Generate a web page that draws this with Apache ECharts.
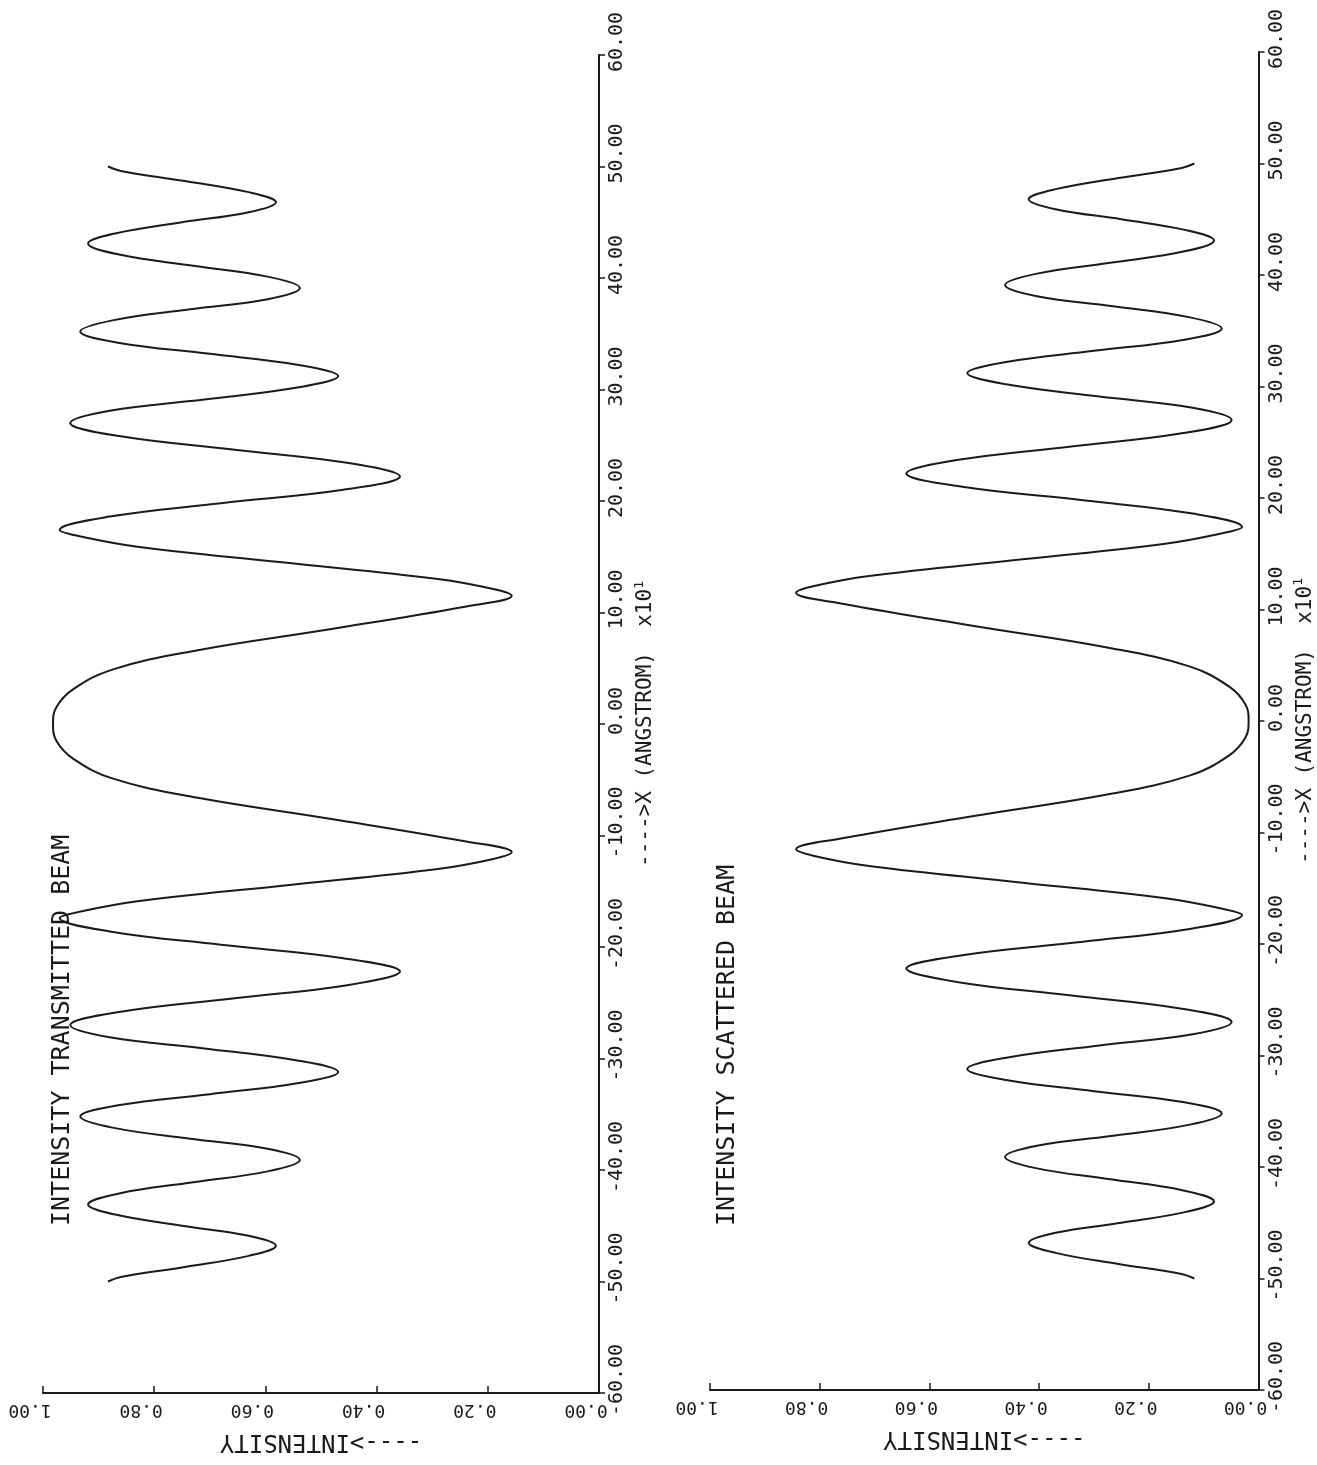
<!DOCTYPE html>
<html>
<head>
<meta charset="utf-8">
<script src="https://cdn.jsdelivr.net/npm/echarts@6/dist/echarts.min.js"></script>
<style>
html,body{margin:0;padding:0;background:#fff;}
#chart{width:1317px;height:1465px;}
</style>
</head>
<body>
<div id="chart"></div>
<script>
// ---- data (X in units of 10 Angstrom) ----
const angstrom = [
  -50.0, -49.6, -48.7, -47.7, -46.8, -45.9, -45.0, -44.0, -43.1, -42.1,
  -41.1, -40.1, -39.1, -38.1, -37.2, -36.2, -35.2, -34.2, -33.2, -32.2,
  -31.2, -30.2, -29.1, -28.1, -27.0, -25.8, -24.6, -23.4, -22.2, -21.0,
  -19.8, -18.6, -17.4, -16.9, -15.9, -14.5, -13.0, -12.1, -11.5, -10.5,
  -8.5, -6.6, -4.9, -3.1, -1.5,
  0,
  1.5, 3.1, 4.9, 6.6, 8.5,
  10.5, 11.5, 12.1, 13.0, 14.5, 15.9, 16.9, 17.4, 18.6, 19.8,
  21.0, 22.2, 23.4, 24.6, 25.8, 27.0, 28.1, 29.1, 30.2, 31.2,
  32.2, 33.2, 34.2, 35.2, 36.2, 37.2, 38.1, 39.1, 40.1, 41.1,
  42.1, 43.1, 44.0, 45.0, 45.9, 46.8, 47.7, 48.7, 49.6, 50.0
];
const transmitted = [
  0.883, 0.86, 0.745, 0.63, 0.581, 0.63, 0.75, 0.87, 0.919, 0.863,
  0.73, 0.594, 0.538, 0.596, 0.735, 0.875, 0.933, 0.865, 0.70, 0.54,
  0.469, 0.54, 0.71, 0.88, 0.951, 0.86, 0.655, 0.45, 0.358, 0.46,
  0.68, 0.88, 0.970, 0.94, 0.83, 0.57, 0.29, 0.19, 0.157, 0.244,
  0.484, 0.724, 0.874, 0.946, 0.976,
  0.982,
  0.976, 0.946, 0.874, 0.724, 0.484,
  0.244, 0.157, 0.19, 0.29, 0.57, 0.83, 0.94, 0.970, 0.88, 0.68,
  0.46, 0.358, 0.45, 0.655, 0.86, 0.951, 0.88, 0.71, 0.54, 0.469,
  0.54, 0.70, 0.865, 0.933, 0.875, 0.735, 0.596, 0.538, 0.594, 0.73,
  0.863, 0.919, 0.87, 0.75, 0.63, 0.581, 0.63, 0.745, 0.86, 0.883
];
const scattered = [
  0.117, 0.14, 0.255, 0.37, 0.419, 0.37, 0.25, 0.13, 0.081, 0.137,
  0.27, 0.406, 0.462, 0.404, 0.265, 0.125, 0.067, 0.135, 0.30, 0.46,
  0.531, 0.46, 0.29, 0.12, 0.049, 0.14, 0.345, 0.55, 0.642, 0.54,
  0.32, 0.12, 0.030, 0.06, 0.17, 0.43, 0.71, 0.81, 0.843, 0.756,
  0.516, 0.276, 0.126, 0.054, 0.024,
  0.018,
  0.024, 0.054, 0.126, 0.276, 0.516,
  0.756, 0.843, 0.81, 0.71, 0.43, 0.17, 0.06, 0.030, 0.12, 0.32,
  0.54, 0.642, 0.55, 0.345, 0.14, 0.049, 0.12, 0.29, 0.46, 0.531,
  0.46, 0.30, 0.135, 0.067, 0.125, 0.265, 0.404, 0.462, 0.406, 0.27,
  0.137, 0.081, 0.13, 0.25, 0.37, 0.419, 0.37, 0.255, 0.14, 0.117
];
const titles = ['INTENSITY TRANSMITTED BEAM', 'INTENSITY SCATTERED BEAM'];
const angstromName = '---->X (ANGSTROM)  x10';
const intensityName = '---->INTENSITY';

const INK = '#1a1a1a';
const FONT = '"DejaVu Sans Mono", "Liberation Mono", monospace';

function intensityAxis(gi) {
  return {
    type: 'value', gridIndex: gi, position: 'bottom', inverse: true,
    min: 0, max: 1, interval: 0.2,
    axisLine: { show: true, onZero: false, lineStyle: { color: INK, width: 2 } },
    axisTick: { show: true, inside: true, length: 7, lineStyle: { color: INK, width: 1.5 } },
    axisLabel: {
      rotate: 180, margin: 8, showMinLabel: true, showMaxLabel: true,
      formatter: v => v.toFixed(2), fontFamily: FONT, fontSize: 18, color: INK,
      padding: [0, 0, 0, 26]
    },
    splitLine: { show: false },
    name: intensityName, nameLocation: 'middle', nameRotate: 180, nameGap: 36,
    nameTextStyle: { fontFamily: FONT, fontSize: 24, color: INK }
  };
}
function angstromAxis(gi) {
  return {
    type: 'value', gridIndex: gi, position: 'right',
    min: -60, max: 60, interval: 10,
    axisLine: { show: true, onZero: false, lineStyle: { color: INK, width: 2 } },
    axisTick: { show: true, inside: false, length: 6, lineStyle: { color: INK, width: 1.5 } },
    axisLabel: {
      rotate: 90, margin: 8, showMinLabel: true, showMaxLabel: true,
      formatter: v => v.toFixed(2), fontFamily: FONT, fontSize: 20, color: INK,
      padding: [0, 0, 0, 26]
    },
    splitLine: { show: false },
    name: '{a|' + angstromName + '}{s|1}',
    nameLocation: 'middle', nameRotate: 90, nameGap: 34,
    nameTextStyle: {
      fontFamily: FONT, fontSize: 21, color: INK,
      rich: {
        a: { fontFamily: FONT, fontSize: 21, color: INK, lineHeight: 26 },
        s: { fontFamily: FONT, fontSize: 13, color: INK, verticalAlign: 'top', lineHeight: 26 }
      }
    }
  };
}

const chart = echarts.init(document.getElementById('chart'), null, { renderer: 'canvas' });
chart.setOption({
  backgroundColor: '#ffffff',
  animation: false,
  grid: [
    { left: 43, top: 55, width: 556, height: 1338, containLabel: false },
    { left: 710, top: 52, width: 558, height: 1338, containLabel: false }
  ],
  xAxis: [intensityAxis(0), intensityAxis(1)],
  yAxis: [angstromAxis(0), angstromAxis(1)],
  series: [
    {
      name: titles[0], type: 'line', xAxisIndex: 0, yAxisIndex: 0,
      data: angstrom.map((x, i) => [transmitted[i], x]),
      showSymbol: false, smooth: 0.4, clip: false,
      lineStyle: { color: INK, width: 2 }
    },
    {
      name: titles[1], type: 'line', xAxisIndex: 1, yAxisIndex: 1,
      data: angstrom.map((x, i) => [scattered[i], x]),
      showSymbol: false, smooth: 0.4, clip: false,
      lineStyle: { color: INK, width: 2 }
    }
  ],
  graphic: [
    {
      type: 'text', x: 62, y: 1226, rotation: Math.PI / 2,
      style: { text: titles[0], font: '25px ' + FONT, fill: INK, align: 'left', verticalAlign: 'middle' }
    },
    {
      type: 'text', x: 727, y: 1226, rotation: Math.PI / 2,
      style: { text: titles[1], font: '25px ' + FONT, fill: INK, align: 'left', verticalAlign: 'middle' }
    }
  ]
});
</script>
</body>
</html>
